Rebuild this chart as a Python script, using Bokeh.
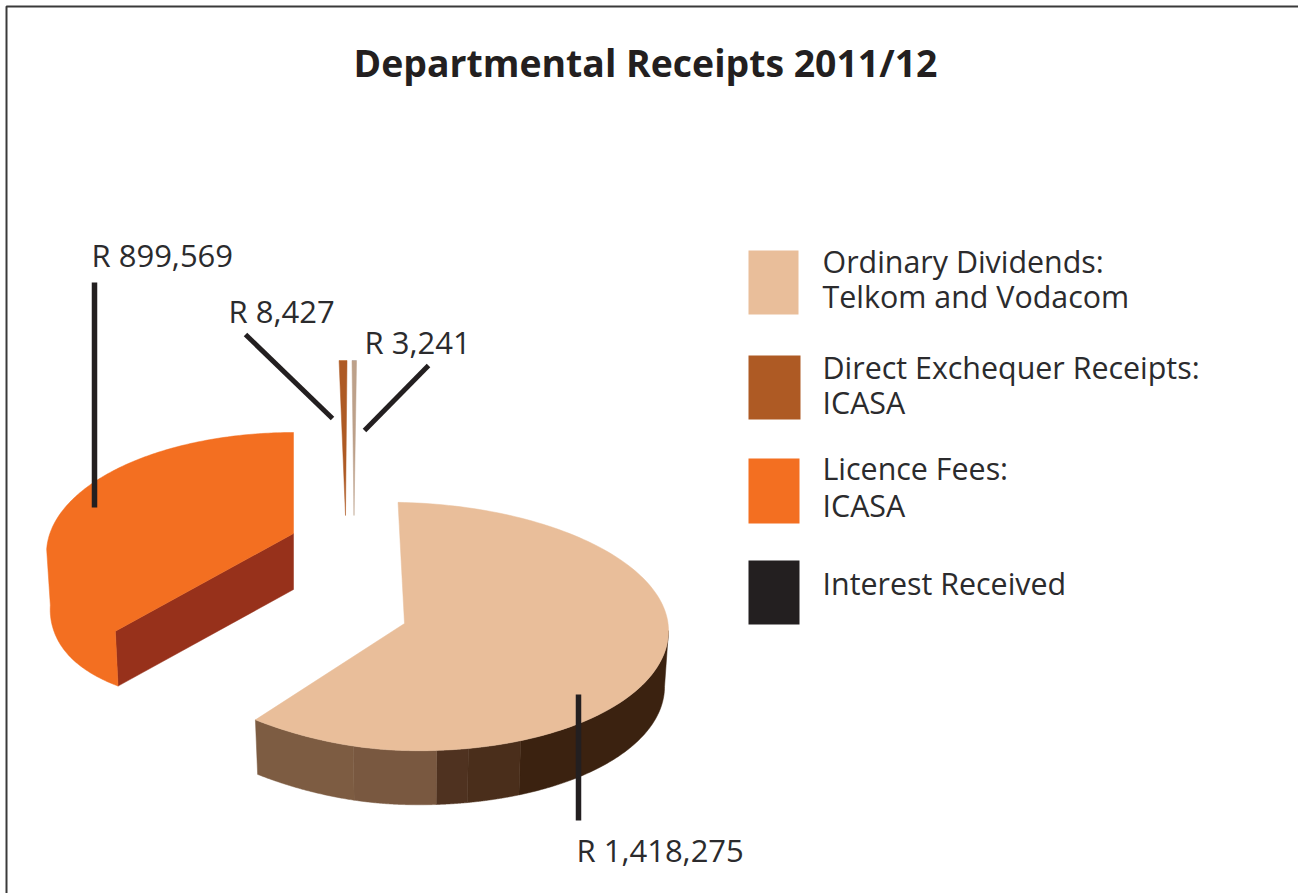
import numpy as np
from bokeh.core.properties import value
from bokeh.embed import file_html
from bokeh.models import Range1d
from bokeh.plotting import figure
from bokeh.resources import INLINE

# Receipts per category, in rand thousands
categories = ["Ordinary Dividends", "Licence Fees", "Direct Exchequer Receipts", "Interest Received"]
receipts = [1418275, 899569, 8427, 3241]
value_labels = ["R 1,418,275", "R 899,569", "R 8,427", "R 3,241"]
top_colors = ["#E9BE9A", "#F36F21", "#AE5A24", "#BDA18A"]

legend_lines = [
    ["Ordinary Dividends:", "Telkom and Vodacom"],
    ["Direct Exchequer Receipts:", "ICASA"],
    ["Licence Fees:", "ICASA"],
    ["Interest Received"],
]
legend_colors = ["#E9BE9A", "#AE5A24", "#F36F21", "#231F20"]
title_text = "Departmental Receipts 2011/12"

INK = "#231F20"
TEXT = "#2B2B2D"
FONT = value("Open Sans")
BASELINE_SHIFT = -0.41  # lifts the glyph text, in font sizes, on to its baseline

# Projection of each exploded slice on to the page
slice_geometry = [
    dict(cx=404, cy=623, apex_y=623, rx=264, ry_back=121, ry_front=127, k_left=-0.125,
         shear=0.027, rotate=-1.4, depth=56, base_scale=0.985),
    dict(cx=293, cy=553, apex_y=533, rx=247, ry_back=121, ry_front=103, k_left=0.175,
         shear=0.0, rotate=1.8, depth=56, base_scale=0.985),
    dict(cx=345, cy=515, apex_y=515, rx=350, ry_back=155, ry_front=155, k_left=0.0,
         shear=0.0, rotate=0.75, depth=0, base_scale=1.0),
    dict(cx=353.5, cy=515, apex_y=515, rx=520, ry_back=155, ry_front=155, k_left=0.0,
         shear=0.0, rotate=0.28, depth=0, base_scale=1.0),
]

# Shaded facets along the outer rim of the largest slice
rim_breaks = [90, 153.9, 166, 173, 192.7]
rim_colors = ["#3B2210", "#4A2E1B", "#4F3220", "#795840", "#7D5C42"]
licence_wall_color = "#97311B"
licence_rim_end = 272  # the rim turns out of sight here


def ring(theta_deg, g, scale=1.0, depth=0.0):
    t = np.radians(np.atleast_1d(theta_deg))
    s, c = np.sin(t), np.cos(t)
    forward = np.maximum(-c, 0)
    x = g["rx"] * s * (1 + np.where(s < 0, g["k_left"], 0) * forward ** 2) * scale
    y = -np.where(c < 0, g["ry_front"], g["ry_back"]) * c * scale + g["shear"] * x
    return g["cx"] + x, g["cy"] + y + depth


p = figure(width=1298, height=893, output_backend="svg", toolbar_location=None,
           x_range=Range1d(0, 1298), y_range=Range1d(893, 0),
           min_border=0, outline_line_color=None, background_fill_color="#FFFFFF",
           border_fill_color="#FFFFFF")
p.axis.visible = False
p.grid.visible = False

# Page frame: top and left rules only
p.line([6, 6, 1298], [893, 6, 6], line_color="#3A3A3A", line_width=2)

totals = np.cumsum([0] + receipts)
spans = 360.0 * totals / totals[-1]


def face(a0, a1, g, color):
    th = np.linspace(a0, a1, 160)
    x, y = ring(th, g)
    xs = np.concatenate([[g["cx"]], x])
    ys = np.concatenate([[g["apex_y"]], y])
    p.patch(xs, ys, fill_color=color, line_color=color, line_width=0.5)


def rim(a0, a1, g, color):
    th = np.linspace(a0, a1, 80)
    x0, y0 = ring(th, g)
    x1, y1 = ring(th[::-1], g, g["base_scale"], g["depth"])
    p.patch(np.concatenate([x0, x1]), np.concatenate([y0, y1]),
            fill_color=color, line_color=color, line_width=0.5)


def label(x, y, txt, size, style="normal", color=TEXT):
    p.text([x], [y], text=[txt], text_font=FONT, text_font_size=f"{size}px",
           text_font_style=style, text_color=color, text_baseline="alphabetic",
           text_align="left", y_offset=BASELINE_SHIFT * size)


# Largest slice: rim facets first, then the top surface
g = slice_geometry[0]
a0, a1 = spans[0] + g["rotate"], spans[1] + g["rotate"]
edges = rim_breaks + [a1]
for i, col in enumerate(rim_colors):
    rim(edges[i], edges[i + 1], g, col)
face(a0, a1, g, top_colors[0])

# Licence fees slice: cut wall, then top and rim as one flat-coloured outline
g = slice_geometry[1]
a0, a1 = spans[1] + g["rotate"], spans[2] + g["rotate"]
cx0, cy0 = ring(a0, g)
cx1, cy1 = ring(a0, g, g["base_scale"], g["depth"])
p.patch([g["cx"], cx0[0], cx1[0], g["cx"]],
        [g["apex_y"], cy0[0], cy1[0], g["apex_y"] + g["depth"]],
        fill_color=licence_wall_color, line_color=licence_wall_color, line_width=0.5)
base_x, base_y = ring(np.linspace(a0, licence_rim_end, 80), g, g["base_scale"], g["depth"])
back_x, back_y = ring(np.linspace(licence_rim_end, a1, 120), g)
p.patch(np.concatenate([[g["cx"]], cx0, base_x, back_x]),
        np.concatenate([[g["apex_y"]], cy0, base_y, back_y]),
        fill_color=top_colors[1], line_color=top_colors[1], line_width=0.5)

# The two small slivers
for i in (2, 3):
    g = slice_geometry[i]
    face(spans[i] + g["rotate"], spans[i + 1] + g["rotate"], g, top_colors[i])

# Leader lines
leaders = [
    ([578, 578], [694, 820], 5.5),
    ([94, 94], [282, 507], 5.5),
    ([245, 332], [334, 418], 5),
    ([428, 364], [365, 430], 5),
]
for xs, ys, w in leaders:
    p.line(xs, ys, line_color=INK, line_width=w)

# Value labels beside their leaders
label_pos = [(576, 862), (91, 267), (228, 323), (364, 354)]
for txt, (x, y) in zip(value_labels, label_pos):
    label(x, y, txt, 31)

label(353, 77, title_text, 37.4, "bold", INK)

# Legend
swatches = [(748, 798, 250, 314), (748, 800, 355, 419), (748, 799, 458, 523), (748, 799, 560, 624)]
baselines = [[273, 308], [379, 414], [480, 517], [595]]
for col, (l, r, t, b), lines, bases in zip(legend_colors, swatches, legend_lines, baselines):
    p.quad(left=[l], right=[r], top=[t], bottom=[b], fill_color=col, line_color=None)
    for line, base in zip(lines, bases):
        label(822, base, line, 30.4)

open("out.html", "w").write(file_html(p, INLINE))
